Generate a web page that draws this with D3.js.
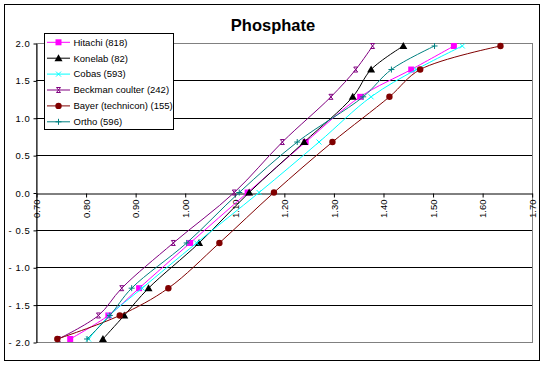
<!DOCTYPE html>
<html><head><meta charset="utf-8">
<script src="https://cdn.jsdelivr.net/npm/d3@7"></script>
<style>body{margin:0;background:#fff}svg{display:block}text{font-family:Arial,"Liberation Sans",sans-serif}</style>
</head><body><svg id="c" width="545" height="366"></svg>
<script>
const title = "Phosphate";
const yLevels = [-1.96, -1.645, -1.28, -0.675, 0, 0.675, 1.28, 1.645, 1.96];
const seriesNames = ["Hitachi (818)", "Konelab (82)", "Cobas (593)", "Beckman coulter (242)", "Bayer (technicon) (155)", "Ortho (596)"];
const hitachi = [0.769, 0.846, 0.908, 1.011, 1.127, 1.244, 1.354, 1.457, 1.543];
const konelab = [0.835, 0.878, 0.927, 1.029, 1.130, 1.241, 1.339, 1.376, 1.441];
const cobas   = [0.806, 0.848, 0.914, 1.024, 1.150, 1.271, 1.376, 1.467, 1.560];
const beckman = [0.745, 0.826, 0.873, 0.977, 1.100, 1.197, 1.295, 1.345, 1.379];
const bayer   = [0.743, 0.869, 0.967, 1.070, 1.180, 1.298, 1.413, 1.475, 1.637];
const ortho   = [0.803, 0.849, 0.893, 1.004, 1.110, 1.227, 1.360, 1.417, 1.504];
const xTicks = [0.7, 0.8, 0.9, 1.0, 1.1, 1.2, 1.3, 1.4, 1.5, 1.6, 1.7];
const yTicks = [-2, -1.5, -1, -0.5, 0, 0.5, 1, 1.5, 2];

const seriesValues = [hitachi, konelab, cobas, beckman, bayer, ortho];
const colors = ["#FF00FF", "#000000", "#00FFFF", "#800080", "#800000", "#008080"];
const markers = ["square", "triangle", "x", "star", "circle", "plus"];

const svg = d3.select("#c");
svg.append("rect").attr("x", 4.5).attr("y", 4.5).attr("width", 535).attr("height", 356)
  .attr("fill", "#fff").attr("stroke", "#000");

const x = d3.scaleLinear().domain([0.7, 1.7]).range([36, 531.7]);
const y = d3.scaleLinear().domain([-2, 2]).range([342, 43]);

svg.append("text").attr("x", 273).attr("y", 31).attr("text-anchor", "middle")
  .attr("font-size", 16.5).attr("font-weight", "bold").text(title);

svg.append("rect").attr("x", 36.5).attr("y", Math.round(y(2)) + 0.5)
  .attr("width", Math.round(x(1.7)) - 36).attr("height", Math.round(y(-2)) - Math.round(y(2)))
  .attr("fill", "#fff").attr("stroke", "#808080");

yTicks.filter(d => d !== 0 && Math.abs(d) !== 2).forEach(d => {
  svg.append("line").attr("x1", 36).attr("x2", Math.round(x(1.7)))
    .attr("y1", Math.round(y(d)) + 0.5).attr("y2", Math.round(y(d)) + 0.5).attr("stroke", "#000");
});

const yAxis = d3.axisLeft(y).tickValues(yTicks).tickFormat(d3.format(".1f")).tickSize(3).tickSizeOuter(0);
const ya = svg.append("g").attr("transform", "translate(36.5,0.5)").call(yAxis);
ya.select(".domain").attr("stroke", "#000");
ya.selectAll(".tick line").attr("stroke", "#000");
ya.selectAll(".tick text").attr("font-size", 9.5).attr("x", -6).attr("fill", "#000")
  .attr("font-family", "Arial, 'Liberation Sans', sans-serif").attr("letter-spacing", "0.6px")
  .text(d => d3.format(".1f")(d).replace("-", "- ").replace("−", "- "));

const xAxis = d3.axisBottom(x).tickValues(xTicks).tickFormat(d3.format(".2f")).tickSize(4).tickSizeOuter(0);
const xa = svg.append("g").attr("transform", `translate(0.5,${Math.round(y(0)) + 0.5})`).call(xAxis);
xa.select(".domain").attr("stroke", "#000");
xa.selectAll(".tick line").attr("stroke", "#000");
xa.selectAll(".tick text").attr("font-size", 9.5).attr("fill", "#000")
  .attr("font-family", "Arial, 'Liberation Sans', sans-serif")
  .attr("transform", "rotate(-90)").attr("text-anchor", "end")
  .attr("x", -6).attr("y", 0).attr("dy", "0.35em");

const line = d3.line().x(d => x(d[0])).y(d => y(d[1])).curve(d3.curveCatmullRom.alpha(0.5));
function drawMarker(g, type, cx, cy, color) {
  if (type === "square") {
    g.append("rect").attr("x", cx - 3).attr("y", cy - 3).attr("width", 6).attr("height", 6).attr("fill", color);
  } else if (type === "triangle") {
    g.append("path").attr("d", `M${cx},${cy - 4}L${cx + 4},${cy + 3}L${cx - 4},${cy + 3}Z`).attr("fill", color);
  } else if (type === "circle") {
    g.append("circle").attr("cx", cx).attr("cy", cy).attr("r", 3.2).attr("fill", color);
  } else if (type === "x") {
    g.append("path").attr("d", `M${cx - 2.5},${cy - 2.5}L${cx + 2.5},${cy + 2.5}M${cx - 2.5},${cy + 2.5}L${cx + 2.5},${cy - 2.5}`)
      .attr("stroke", color).attr("stroke-width", 1).attr("fill", "none");
  } else if (type === "star") {
    g.append("path").attr("d", `M${cx - 2},${cy - 2.5}L${cx + 2},${cy + 2.5}M${cx - 2},${cy + 2.5}L${cx + 2},${cy - 2.5}M${cx - 2},${cy - 2.5}L${cx + 2},${cy - 2.5}M${cx - 2},${cy + 2.5}L${cx + 2},${cy + 2.5}`)
      .attr("stroke", color).attr("stroke-width", 1).attr("fill", "none");
  } else if (type === "plus") {
    g.append("path").attr("d", `M${cx - 3},${cy}L${cx + 3},${cy}M${cx},${cy - 3}L${cx},${cy + 3}`)
      .attr("stroke", color).attr("stroke-width", 1).attr("fill", "none");
  }
}
seriesValues.forEach((vals, i) => {
  const pts = vals.map((v, j) => [v, yLevels[j]]);
  const g = svg.append("g");
  g.append("path").attr("d", line(pts)).attr("fill", "none").attr("stroke", colors[i]).attr("stroke-width", 1);
  pts.forEach(p => drawMarker(g, markers[i], x(p[0]), y(p[1]), colors[i]));
});

const lg = svg.append("g");
lg.append("rect").attr("x", 44.5).attr("y", 33.5).attr("width", 129).attr("height", 96)
  .attr("fill", "#fff").attr("stroke", "#000");
seriesNames.forEach((name, i) => {
  const ly = 42.3 + i * 15.9;
  lg.append("line").attr("x1", 47).attr("x2", 70).attr("y1", ly).attr("y2", ly)
    .attr("stroke", colors[i]).attr("stroke-width", 1);
  drawMarker(lg, markers[i], 58.5, ly, colors[i]);
  lg.append("text").attr("x", 73.5).attr("y", ly).attr("dy", "0.35em").attr("font-size", 9.5)
    .text(name);
});
</script></body></html>
